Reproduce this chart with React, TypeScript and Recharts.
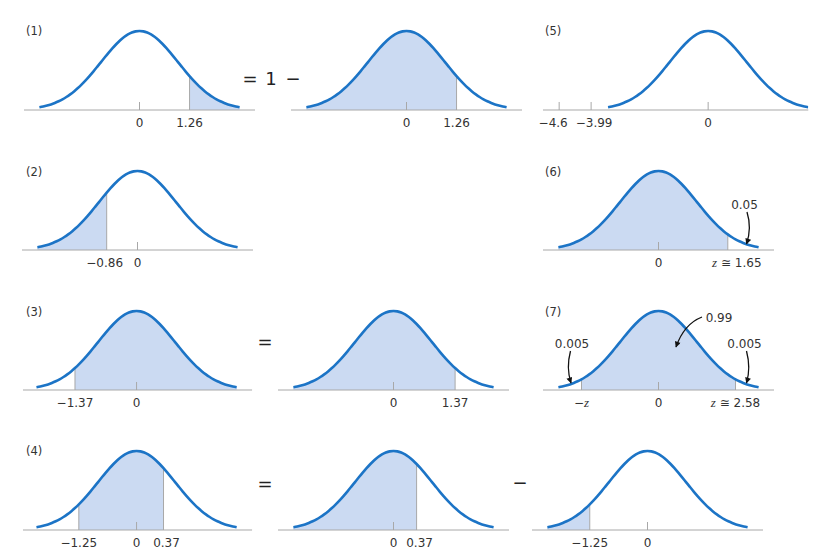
import React from "react";
import { ComposedChart, Line, Area, XAxis, YAxis, ReferenceLine } from "recharts";

const BLUE = "#1c74c6";
const SHADE = "#cbdaf2";
const GREY = "#a8a8a8";
const INK = "#333";
const FONT = "'DejaVu Sans', sans-serif";

// standard normal density, read at z = -2.6 .. 2.6
const Z_GRID = [
  -2.6, -2.5, -2.4, -2.3, -2.2, -2.1, -2.0, -1.9, -1.8, -1.7, -1.6, -1.5, -1.4,
  -1.3, -1.2, -1.1, -1.0, -0.9, -0.8, -0.7, -0.6, -0.5, -0.4, -0.3, -0.2, -0.1,
  0, 0.1, 0.2, 0.3, 0.4, 0.5, 0.6, 0.7, 0.8, 0.9, 1.0, 1.1, 1.2, 1.3, 1.4, 1.5,
  1.6, 1.7, 1.8, 1.9, 2.0, 2.1, 2.2, 2.3, 2.4, 2.5, 2.6,
];
const DENSITY = [
  0.0136, 0.0175, 0.0224, 0.0283, 0.0355, 0.044, 0.054, 0.0656, 0.079, 0.094,
  0.1109, 0.1295, 0.1497, 0.1714, 0.1942, 0.2179, 0.242, 0.2661, 0.2897, 0.3123,
  0.3332, 0.3521, 0.3683, 0.3814, 0.391, 0.397, 0.3989, 0.397, 0.391, 0.3814,
  0.3683, 0.3521, 0.3332, 0.3123, 0.2897, 0.2661, 0.242, 0.2179, 0.1942, 0.1714,
  0.1497, 0.1295, 0.1109, 0.094, 0.079, 0.0656, 0.054, 0.044, 0.0355, 0.0283,
  0.0224, 0.0175, 0.0136,
];

// shaded bands and cut lines, in drawing units (figure is not to scale)
const SHADE_1 = [1.3, 2.6];
const CUTS_1 = [1.3];
const TICKS_1 = [{ at: 0, label: "0", mark: true }, { at: 1.3, label: "1.26" }];

const SHADE_1B = [-2.6, 1.3];
const CUTS_1B = [1.3];
const TICKS_1B = [{ at: 0, label: "0", mark: true }, { at: 1.3, label: "1.26" }];

const TICKS_5 = [
  { at: -3.87, label: "\u22124.6", mark: true, dx: -6 },
  { at: -3.04, label: "\u22123.99", mark: true, dx: 3 },
  { at: 0, label: "0", mark: true },
];

const SHADE_2 = [-2.6, -0.8];
const CUTS_2 = [-0.8];
const TICKS_2 = [{ at: -0.8, label: "\u22120.86", dx: -2 }, { at: 0, label: "0", mark: true }];

const SHADE_6 = [-2.6, 1.8];
const CUTS_6 = [1.8];
const TICKS_6 = [{ at: 0, label: "0", mark: true }, { at: 1.8, label: "z \u2245 1.65", dx: 9 }];

const SHADE_3 = [-1.6, 2.6];
const CUTS_3 = [-1.6];
const TICKS_3 = [{ at: -1.6, label: "\u22121.37" }, { at: 0, label: "0", mark: true }];

const SHADE_3B = [-2.6, 1.6];
const CUTS_3B = [1.6];
const TICKS_3B = [{ at: 0, label: "0", mark: true }, { at: 1.6, label: "1.37" }];

const SHADE_7 = [-2.0, 2.0];
const CUTS_7 = [-2.0, 2.0];
const TICKS_7 = [
  { at: -2.0, label: "\u2212z" },
  { at: 0, label: "0", mark: true },
  { at: 2.0, label: "z \u2245 2.58" },
];

const SHADE_4 = [-1.5, 0.7];
const CUTS_4 = [-1.5, 0.7];
const TICKS_4 = [
  { at: -1.5, label: "\u22121.25" },
  { at: 0, label: "0", mark: true },
  { at: 0.7, label: "0.37", dx: 3 },
];

const SHADE_4B = [-2.6, 0.6];
const CUTS_4B = [0.6];
const TICKS_4B = [{ at: 0, label: "0", mark: true }, { at: 0.6, label: "0.37", dx: 3 }];

const SHADE_4C = [-2.6, -1.5];
const CUTS_4C = [-1.5];
const TICKS_4C = [{ at: -1.5, label: "\u22121.25" }, { at: 0, label: "0", mark: true }];

const PX = 38.5;
const PLOT_H = 90;
const AXIS_H = 24;
const PAD = 24; // room for tick labels past the axis ends

const CURVE = Z_GRID.map((z, i) => ({ z, y: DENSITY[i] }));
const near = (a: number, b: number) => Math.abs(a - b) < 1e-6;

type Tick = { at: number; label: string; mark?: boolean; dx?: number };

const PANELS = [
  { cx: 139, axisY: 110, lo: -3, hi: 3, shade: SHADE_1, cuts: CUTS_1, ticks: TICKS_1 },
  { cx: 406, axisY: 110, lo: -3, hi: 3, shade: SHADE_1B, cuts: CUTS_1B, ticks: TICKS_1B },
  { cx: 708, axisY: 110, lo: -4.29, hi: 2.6, shade: null, cuts: [], ticks: TICKS_5 },
  { cx: 137, axisY: 250, lo: -3, hi: 3, shade: SHADE_2, cuts: CUTS_2, ticks: TICKS_2 },
  { cx: 658, axisY: 250, lo: -3, hi: 3, shade: SHADE_6, cuts: CUTS_6, ticks: TICKS_6 },
  { cx: 137, axisY: 390, lo: -2.95, hi: 3, shade: SHADE_3, cuts: CUTS_3, ticks: TICKS_3 },
  { cx: 393, axisY: 390, lo: -3, hi: 3, shade: SHADE_3B, cuts: CUTS_3B, ticks: TICKS_3B },
  { cx: 658, axisY: 390, lo: -3, hi: 3, shade: SHADE_7, cuts: CUTS_7, ticks: TICKS_7 },
  { cx: 137, axisY: 530, lo: -2.95, hi: 3, shade: SHADE_4, cuts: CUTS_4, ticks: TICKS_4 },
  { cx: 393, axisY: 530, lo: -3, hi: 3, shade: SHADE_4B, cuts: CUTS_4B, ticks: TICKS_4B },
  { cx: 647, axisY: 530, lo: -3, hi: 3, shade: SHADE_4C, cuts: CUTS_4C, ticks: TICKS_4C },
];

function Label({ text }: { text: string }) {
  const parts = text.split(/(z)/).filter(Boolean);
  return (
    <>
      {parts.map((p, i) =>
        p === "z" ? (
          <tspan key={i} fontStyle="italic" fontFamily="'Liberation Serif', serif" fontSize={13}>
            z
          </tspan>
        ) : (
          <tspan key={i}>{p}</tspan>
        )
      )}
    </>
  );
}

function makeTick(ticks: Tick[]) {
  return (props: any) => {
    const { x, y, payload } = props;
    const t = ticks.find((k) => near(k.at, payload.value));
    if (!t) return <g />;
    return (
      <g>
        {t.mark && <line x1={x} x2={x} y1={y} y2={y - 8} stroke={GREY} strokeWidth={1} />}
        <text x={x + (t.dx || 0)} y={y + 17} textAnchor="middle" fontSize={12} fill={INK} fontFamily={FONT}>
          <Label text={t.label} />
        </text>
      </g>
    );
  };
}

function Bell({ p }: { p: (typeof PANELS)[number] }) {
  const width = (p.hi - p.lo) * PX + 2 * PAD;
  const left = p.cx + p.lo * PX - PAD;
  const top = p.axisY - PLOT_H;
  const shadeData = p.shade
    ? CURVE.filter((d) => d.z >= p.shade![0] - 1e-6 && d.z <= p.shade![1] + 1e-6)
    : [];
  return (
    <div style={{ position: "absolute", left, top }}>
      <ComposedChart
        width={width}
        height={PLOT_H + AXIS_H}
        data={CURVE}
        margin={{ top: 0, right: PAD, bottom: 0, left: PAD }}
      >
        <XAxis
          type="number"
          dataKey="z"
          domain={[p.lo, p.hi]}
          ticks={p.ticks.map((t) => t.at)}
          interval={0}
          height={AXIS_H}
          tickLine={false}
          tickSize={0}
          tickMargin={0}
          axisLine={{ stroke: GREY, strokeWidth: 1 }}
          tick={makeTick(p.ticks)}
          allowDataOverflow
        />
        <YAxis hide domain={[0, 0.4545]} allowDataOverflow />
        {p.shade && (
          <Area
            data={shadeData}
            dataKey="y"
            type="monotone"
            stroke="none"
            fill={SHADE}
            fillOpacity={1}
            isAnimationActive={false}
          />
        )}
        {p.cuts.map((c) => {
          const h = CURVE.find((d) => near(d.z, c))!.y;
          return (
            <ReferenceLine
              key={c}
              segment={[{ x: c, y: 0 }, { x: c, y: h }]}
              stroke={GREY}
              strokeWidth={1}
              ifOverflow="visible"
            />
          );
        })}
        <Line dataKey="y" type="monotone" stroke={BLUE} strokeWidth={2.6} dot={false} isAnimationActive={false} />
      </ComposedChart>
    </div>
  );
}

const PANEL_LABELS = [
  { t: "(1)", x: 26, y: 35 },
  { t: "(2)", x: 26, y: 176 },
  { t: "(3)", x: 26, y: 316 },
  { t: "(4)", x: 26, y: 455 },
  { t: "(5)", x: 545, y: 35 },
  { t: "(6)", x: 545, y: 176 },
  { t: "(7)", x: 545, y: 316 },
];

const OPERATORS = [
  { t: "=", x: 250, y: 85 },
  { t: "1", x: 271, y: 85 },
  { t: "\u2212", x: 293, y: 85 },
  { t: "=", x: 265, y: 348 },
  { t: "=", x: 265, y: 490 },
  { t: "\u2212", x: 520, y: 489 },
];

const NOTES = [
  { t: "0.05", x: 744.5, y: 208.5 },
  { t: "0.005", x: 572, y: 347.5 },
  { t: "0.005", x: 744.5, y: 347.5 },
  { t: "0.99", x: 719, y: 321.5 },
];

const ARROWS = [
  "M747,212 Q752,228 746.5,244",
  "M570.5,351 Q566,368 571,383",
  "M746.5,351 Q751,368 746.5,383",
  "M702,317 Q684,324 676,347",
];

export default function App() {
  return (
    <div style={{ position: "relative", width: 821, height: 556, background: "#fff", overflow: "hidden" }}>
      <style>{"body{margin:0}"}</style>
      {PANELS.map((p, i) => (
        <Bell key={i} p={p} />
      ))}
      <svg width={821} height={556} style={{ position: "absolute", left: 0, top: 0, pointerEvents: "none" }}>
        <defs>
          <marker id="head" viewBox="0 0 10 10" refX="9" refY="5" markerWidth="8" markerHeight="6" orient="auto" markerUnits="userSpaceOnUse">
            <path d="M0,0 L10,5 L0,10 z" fill="#111" />
          </marker>
        </defs>
        {PANEL_LABELS.map((l) => (
          <text key={l.t} x={l.x} y={l.y} fontSize={11.5} fill={INK} fontFamily={FONT}>
            {l.t}
          </text>
        ))}
        {OPERATORS.map((o, i) => (
          <text key={i} x={o.x} y={o.y} fontSize={18} fill="#222" textAnchor="middle" fontFamily={FONT}>
            {o.t}
          </text>
        ))}
        {NOTES.map((n, i) => (
          <text key={i} x={n.x} y={n.y} fontSize={12} fill={INK} textAnchor="middle" fontFamily={FONT}>
            {n.t}
          </text>
        ))}
        {ARROWS.map((d, i) => (
          <path key={i} d={d} fill="none" stroke="#111" strokeWidth={1.3} markerEnd="url(#head)" />
        ))}
      </svg>
    </div>
  );
}
